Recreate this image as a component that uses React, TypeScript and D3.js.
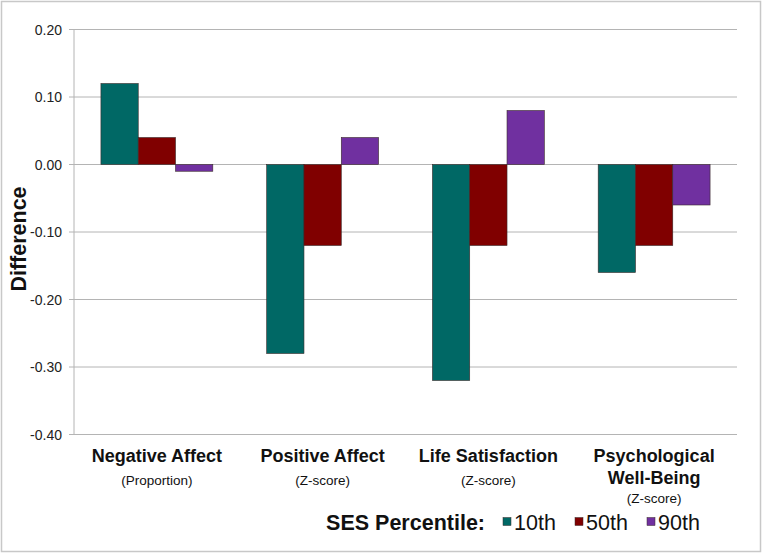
import React from "react";
import * as d3 from "d3";

const categories = ["Negative Affect", "Positive Affect", "Life Satisfaction", "Psychological Well-Being"];
const categoryLines = [["Negative Affect"], ["Positive Affect"], ["Life Satisfaction"], ["Psychological", "Well-Being"]];
const subLabels = ["(Proportion)", "(Z-score)", "(Z-score)", "(Z-score)"];
const seriesNames = ["10th", "50th", "90th"];
const seriesColors = ["#006865", "#800000", "#7030A0"];
const values10th = [0.12, -0.28, -0.32, -0.16];
const values50th = [0.04, -0.12, -0.12, -0.12];
const values90th = [-0.01, 0.04, 0.08, -0.06];
const yTicks = [0.2, 0.1, 0.0, -0.1, -0.2, -0.3, -0.4];

const W = 763;
const H = 554;
const left = 74;
const right = 737;
const top = 29.5;
const bottom = 434.5;

export default function App() {
  const series = [values10th, values50th, values90th];
  const y = d3.scaleLinear().domain([-0.4, 0.2]).range([bottom, top]);
  const x0 = d3.scaleBand<string>().domain(categories).range([left, right]).paddingInner(0).paddingOuter(0);
  const bw = x0.bandwidth();
  const groupW = bw * 0.675;
  const x1 = d3.scaleBand<string>().domain(seriesNames).range([0, groupW]).padding(0);
  const font = "Liberation Sans, Arial, sans-serif";
  const fmt = (v: number) => d3.format(".2f")(v).replace("\u2212", "-");
  return (
    <svg width={W} height={H} style={{ position: "absolute", left: 0, top: 0 }} fontFamily={font}>
      <rect x={1.5} y={1.5} width={759} height={550} fill="#fff" stroke="#c8c8c8" strokeWidth={1.5} />
      {yTicks.map((t) => (
        <g key={t}>
          <line x1={left - 5} x2={right} y1={y(t)} y2={y(t)} stroke="#b4b4b4" strokeWidth={1} />
          <text x={62} y={y(t)} dy="0.36em" textAnchor="end" fontSize={14} fill="#222">
            {fmt(t)}
          </text>
        </g>
      ))}
      <line x1={left} x2={left} y1={top} y2={bottom} stroke="#b4b4b4" strokeWidth={1} />
      {categories.map((c, i) => {
        const gx = (x0(c) as number) + (bw - groupW) / 2;
        return series.map((vals, s) => {
          const v = vals[i];
          const y0 = y(Math.max(0, v));
          const y1 = y(Math.min(0, v));
          return (
            <rect
              key={c + s}
              x={gx + (x1(seriesNames[s]) as number)}
              y={y0}
              width={x1.bandwidth()}
              height={y1 - y0}
              fill={seriesColors[s]}
              stroke="#3a2a2a"
              strokeWidth={0.6}
            />
          );
        });
      })}
      {categories.map((c, i) => {
        const cx = (x0(c) as number) + bw / 2;
        const lines = categoryLines[i];
        return (
          <g key={c}>
            {lines.map((l, j) => (
              <text key={l} x={cx} y={461.5 + j * 22} textAnchor="middle" fontSize={18} fontWeight="bold" fill="#111">
                {l}
              </text>
            ))}
            <text x={cx} y={lines.length > 1 ? 503 : 484.5} textAnchor="middle" fontSize={13.5} fill="#111">
              {subLabels[i]}
            </text>
          </g>
        );
      })}
      <text
        transform={`translate(26,239) rotate(-90)`}
        textAnchor="middle"
        fontSize={21.5}
        fontWeight="bold"
        fill="#111"
      >
        Difference
      </text>
      <text x={485} y={529.5} textAnchor="end" fontSize={21.5} fontWeight="bold" fill="#111">
        SES Percentile:
      </text>
      {seriesNames.map((n, s) => {
        const lx = [503, 575, 647][s];
        return (
          <g key={n}>
            <rect x={lx} y={517.5} width={8} height={8} fill={seriesColors[s]} stroke="#3a2a2a" strokeWidth={0.5} />
            <text x={lx + 11} y={529.5} fontSize={21.5} fill="#111">
              {n}
            </text>
          </g>
        );
      })}
    </svg>
  );
}
